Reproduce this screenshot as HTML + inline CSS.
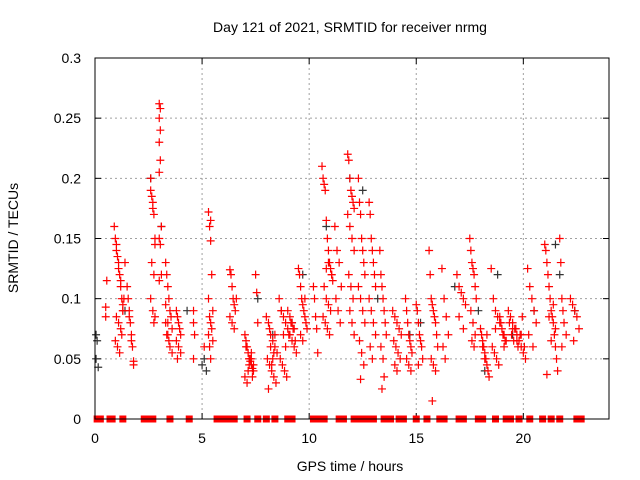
<!DOCTYPE html>
<html><head><meta charset="utf-8"><style>
html,body{margin:0;padding:0;background:#fff;}
svg{display:block;font-family:"Liberation Sans",sans-serif;}
</style></head><body>
<svg id="chart" width="640" height="480" viewBox="0 0 640 480">
<rect x="0" y="0" width="640" height="480" fill="#fff"/>
<text x="350" y="32" font-size="14" text-anchor="middle" fill="#000">Day 121 of 2021, SRMTID for receiver nrmg</text>
<text x="350" y="471" font-size="14" text-anchor="middle" fill="#000">GPS time / hours</text>
<text x="18" y="238" font-size="14" text-anchor="middle" fill="#000" transform="rotate(-90 18 238)">SRMTID / TECUs</text>
<g id="grid"></g>
<g id="ticks"></g>
<g id="black"></g>
<g id="red"></g>
<rect x="95" y="58" width="514" height="361" fill="none" stroke="#000" stroke-width="1"/>
</svg>
<script>
const xTicks=[0,5,10,15,20];
const yTicks=[0,0.05,0.1,0.15,0.2,0.25,0.3];
const yTickLabels=["0","0.05","0.1","0.15","0.2","0.25","0.3"];
const redTimes=[0.5,0.5,0.55,
0.9,0.95,1.0,1.0,1.05,1.1,1.1,1.15,1.2,1.2,1.25,1.3,1.3,1.0,1.1,1.2,1.25,0.95,1.05,1.15,1.3,1.35,1.4,
1.5,1.55,1.6,1.6,1.65,1.7,1.7,1.75,1.8,1.8,
2.6,2.6,2.65,2.7,2.7,2.75,2.8,2.8,2.65,2.75,2.6,2.7,2.8,2.75,
3.0,3.05,3.0,3.05,3.0,3.05,3.0,3.1,3.0,3.05,3.1,3.0,
3.3,3.35,3.4,3.45,3.3,3.5,3.55,3.4,3.6,3.35,3.45,3.5,3.6,3.3,3.4,
3.8,3.85,3.9,3.95,4.0,3.8,3.9,4.0,3.85,
4.6,4.6,4.65,4.6,5.1,
5.3,5.4,5.35,5.4,5.45,5.3,5.5,5.35,5.4,5.45,5.3,5.5,5.35,5.4,
6.3,6.35,6.4,6.45,6.5,6.55,6.3,6.4,6.5,6.6,
7.0,7.05,7.1,7.15,7.2,7.25,7.3,7.35,7.4,7.0,7.1,7.2,7.3,7.4,7.05,7.15,7.25,7.35,7.2,7.3,
7.5,7.55,7.6,
8.0,8.1,8.2,8.3,8.4,8.5,8.05,8.15,8.25,8.35,8.45,8.1,8.2,8.3,8.4,8.15,8.25,8.35,
8.6,8.7,8.8,8.9,9.0,9.1,9.2,9.3,9.4,8.65,8.75,8.85,8.95,9.05,9.15,9.25,9.35,8.7,8.9,9.1,9.3,8.8,9.0,9.2,
9.5,9.55,9.6,9.65,9.7,9.75,9.8,9.85,9.9,9.6,9.7,9.8,
10.2,10.25,10.3,10.35,10.4,
10.6,10.65,10.7,10.75,10.8,10.85,10.9,10.95,11.0,11.05,11.1,10.7,10.8,10.9,11.0,10.65,10.75,10.85,10.95,11.05,10.8,10.9,
11.2,11.3,11.4,11.5,11.25,11.35,11.45,
11.8,11.85,11.9,11.95,12.0,12.05,12.1,11.8,11.9,12.0,12.1,11.85,11.95,12.05,11.9,12.0,12.1,
12.3,12.35,12.4,12.45,12.5,12.55,12.6,12.3,12.4,12.5,12.6,12.35,12.45,12.55,12.4,
12.8,12.85,12.9,12.95,13.0,13.05,13.1,12.8,12.9,13.0,13.1,12.85,12.95,
13.3,13.35,13.4,13.45,13.5,13.55,13.6,13.35,13.45,13.5,13.4,
13.9,14.0,14.1,14.2,14.3,13.95,14.05,14.15,14.25,14.0,14.1,
14.5,14.55,14.6,14.65,14.7,14.75,14.8,14.55,14.65,14.75,
15.0,15.05,15.1,15.15,15.2,15.25,15.3,15.1,
15.6,15.65,15.7,15.75,15.8,15.85,15.9,15.95,16.0,15.7,15.8,15.9,15.75,
16.2,16.3,16.4,16.5,16.25,16.35,
16.9,17.0,17.1,17.2,17.3,17.0,17.2,
17.5,17.55,17.6,17.65,17.7,17.75,17.8,17.55,17.65,17.75,17.6,17.7,
18.0,18.05,18.1,18.15,18.2,18.25,18.3,18.35,18.4,18.1,18.2,18.3,
18.5,18.6,18.7,18.8,18.9,19.0,19.1,19.2,18.55,18.65,18.75,18.85,18.95,19.05,19.15,18.7,18.9,19.1,
19.3,19.4,19.5,19.6,19.7,19.8,19.9,20.0,20.1,19.35,19.45,19.55,19.65,19.75,19.85,19.95,20.05,19.5,19.7,19.9,
20.2,20.3,20.4,20.5,20.6,20.25,20.45,
21.0,21.05,21.1,21.15,21.2,21.25,21.3,21.35,21.4,21.45,21.5,21.55,21.6,21.1,21.3,21.5,21.2,21.4,
21.7,21.75,21.8,21.85,21.9,22.0,21.8,
22.2,22.3,22.4,22.5,22.6,22.35];
const redValues=[0.085,0.093,0.115,
0.16,0.15,0.145,0.14,0.135,0.13,0.125,0.12,0.115,0.11,0.1,0.095,0.09,0.085,0.08,0.075,0.07,0.065,0.06,0.055,0.09,0.1,0.13,
0.11,0.1,0.09,0.085,0.08,0.07,0.065,0.06,0.048,0.045,
0.2,0.19,0.185,0.18,0.175,0.17,0.15,0.145,0.13,0.12,0.1,0.09,0.085,0.08,
0.262,0.258,0.25,0.24,0.23,0.215,0.205,0.16,0.15,0.145,0.12,0.115,
0.13,0.12,0.11,0.1,0.095,0.09,0.085,0.08,0.075,0.07,0.065,0.06,0.055,0.08,0.07,
0.09,0.085,0.08,0.075,0.07,0.065,0.06,0.055,0.05,
0.09,0.08,0.07,0.05,0.06,
0.172,0.165,0.16,0.148,0.12,0.1,0.09,0.085,0.08,0.075,0.07,0.065,0.06,0.05,
0.124,0.12,0.11,0.1,0.095,0.09,0.085,0.08,0.075,0.1,
0.07,0.065,0.06,0.055,0.05,0.048,0.045,0.042,0.04,0.035,0.03,0.05,0.055,0.045,0.06,0.04,0.05,0.035,0.045,0.05,
0.12,0.105,0.08,
0.085,0.08,0.07,0.065,0.06,0.055,0.05,0.045,0.04,0.035,0.03,0.025,0.06,0.05,0.07,0.075,0.045,0.055,
0.1,0.09,0.085,0.08,0.075,0.07,0.065,0.06,0.055,0.05,0.045,0.04,0.035,0.07,0.08,0.075,0.065,0.09,0.06,0.085,0.075,0.07,0.09,0.08,
0.125,0.12,0.11,0.1,0.095,0.09,0.085,0.08,0.075,0.07,0.065,0.1,
0.11,0.1,0.085,0.075,0.055,
0.21,0.2,0.195,0.19,0.165,0.15,0.14,0.13,0.125,0.12,0.115,0.11,0.1,0.095,0.09,0.085,0.08,0.075,0.07,0.12,0.125,0.13,
0.16,0.14,0.13,0.11,0.1,0.09,0.08,
0.22,0.215,0.2,0.19,0.185,0.18,0.175,0.17,0.16,0.15,0.14,0.12,0.11,0.1,0.09,0.08,0.07,
0.2,0.18,0.17,0.15,0.14,0.13,0.12,0.11,0.1,0.09,0.08,0.065,0.055,0.045,0.033,
0.18,0.17,0.15,0.14,0.13,0.12,0.11,0.1,0.09,0.08,0.07,0.06,0.05,
0.14,0.12,0.11,0.1,0.09,0.08,0.07,0.06,0.05,0.035,0.025,
0.09,0.085,0.08,0.075,0.07,0.065,0.06,0.055,0.05,0.045,0.04,
0.1,0.09,0.08,0.07,0.065,0.06,0.055,0.05,0.045,0.04,
0.095,0.09,0.08,0.07,0.065,0.06,0.05,0.045,
0.14,0.12,0.1,0.095,0.09,0.085,0.08,0.07,0.06,0.05,0.045,0.04,0.015,
0.125,0.1,0.085,0.07,0.06,0.05,
0.12,0.11,0.105,0.1,0.095,0.085,0.075,
0.15,0.14,0.13,0.125,0.12,0.11,0.1,0.09,0.08,0.07,0.065,0.06,
0.075,0.07,0.065,0.06,0.055,0.05,0.045,0.04,0.035,0.06,0.05,0.07,
0.125,0.1,0.09,0.085,0.08,0.075,0.07,0.065,0.06,0.055,0.05,0.045,0.08,0.07,0.065,0.075,0.085,0.06,
0.09,0.085,0.08,0.075,0.07,0.065,0.06,0.055,0.05,0.08,0.07,0.065,0.075,0.06,0.07,0.085,0.06,0.075,0.065,0.07,
0.125,0.11,0.1,0.09,0.08,0.07,0.06,
0.145,0.14,0.13,0.12,0.11,0.1,0.09,0.085,0.08,0.07,0.06,0.05,0.04,0.037,0.065,0.075,0.085,0.095,
0.15,0.13,0.1,0.09,0.08,0.07,0.06,
0.1,0.095,0.09,0.085,0.075,0.065];
const blackTimes=[0.05,0.1,0.05,0.15,1.4,2.6,3.1,4.3,5.1,5.2,5.0,7.6,8.3,9.2,9.7,10.8,11.9,12.5,13.2,14.7,15.2,16.8,17.9,18.2,18.8,19.5,20.5,21.5,21.7,22.4];
const blackValues=[0.07,0.065,0.05,0.043,0.09,0.2,0.16,0.09,0.05,0.04,0.045,0.1,0.07,0.08,0.12,0.16,0.2,0.19,0.1,0.07,0.08,0.11,0.09,0.04,0.12,0.07,0.09,0.145,0.12,0.09];
const zeroTimes=[0.1,0.25,0.7,0.8,1.3,2.3,2.5,2.7,3.5,4.4,5.7,5.9,6.1,6.3,6.5,7.1,7.6,8.0,8.4,9.0,9.2,10.2,10.4,10.7,11.4,11.6,12.1,12.3,12.6,12.8,13.0,13.5,13.8,14.2,14.4,15.0,15.5,16.1,16.3,17.0,17.2,17.9,18.1,18.7,19.2,19.4,19.8,20.3,20.9,21.3,21.7,22.5,22.7];

const NS="http://www.w3.org/2000/svg";
const X0=95,X1=609,Y0=419,Y1=58;
function xs(t){return X0+(t/24)*(X1-X0);}
function ys(v){return Y0-(v/0.3)*(Y0-Y1);}
function mk(tag,attrs,parent){const e=document.createElementNS(NS,tag);for(const k in attrs)e.setAttribute(k,attrs[k]);parent.appendChild(e);return e;}
const grid=document.getElementById('grid'),ticks=document.getElementById('ticks');
xTicks.forEach((t,i)=>{
  const x=xs(t);
  if(t>0){const g=mk('line',{x1:x,x2:x,y1:Y1,y2:Y0,stroke:'#a0a0a0','stroke-dasharray':'2,3'},grid);
  
  }
  const a=mk('line',{x1:x,x2:x,y1:Y0,y2:Y0-6,stroke:'#000'},ticks);
  
  
  const b=mk('line',{x1:x,x2:x,y1:Y1,y2:Y1+6,stroke:'#000'},ticks);
  
  
  const tx=mk('text',{x:x,y:443,'font-size':14,'text-anchor':'middle',fill:'#000'},ticks);
  tx.textContent=String(t);
  
  
});
yTicks.forEach((v,i)=>{
  const y=ys(v);
  if(v>0&&v<0.3){const g=mk('line',{x1:X0,x2:X1,y1:y,y2:y,stroke:'#a0a0a0','stroke-dasharray':'2,3'},grid);
  
  }
  const a=mk('line',{x1:X0,x2:X0+6,y1:y,y2:y,stroke:'#000'},ticks);
  
  
  const b=mk('line',{x1:X1,x2:X1-6,y1:y,y2:y,stroke:'#000'},ticks);
  
  
  const tx=mk('text',{x:81,y:y+5,'font-size':14,'text-anchor':'end',fill:'#000'},ticks);
  tx.textContent=yTickLabels[i];
  
  
});
function cross(parent,t,v,col,name){
  const x=xs(t),y=ys(v);
  const p=mk('path',{d:`M${x-4},${y}H${x+4}M${x},${y-4}V${y+4}`,stroke:col,'stroke-width':1.2,fill:'none'},parent);
  
  
}
const bg=document.getElementById('black'),rg=document.getElementById('red');
blackTimes.forEach((t,i)=>cross(bg,t,blackValues[i],'#333','black-point'));
redTimes.forEach((t,i)=>cross(rg,t,redValues[i],'#ff0000','red-point'));
zeroTimes.forEach(t=>{
  const r=mk('rect',{x:xs(t)-3.5,y:Y0-3.5,width:7,height:7,fill:'#ff0000'},rg);
  
  
});
</script>
</body></html>
